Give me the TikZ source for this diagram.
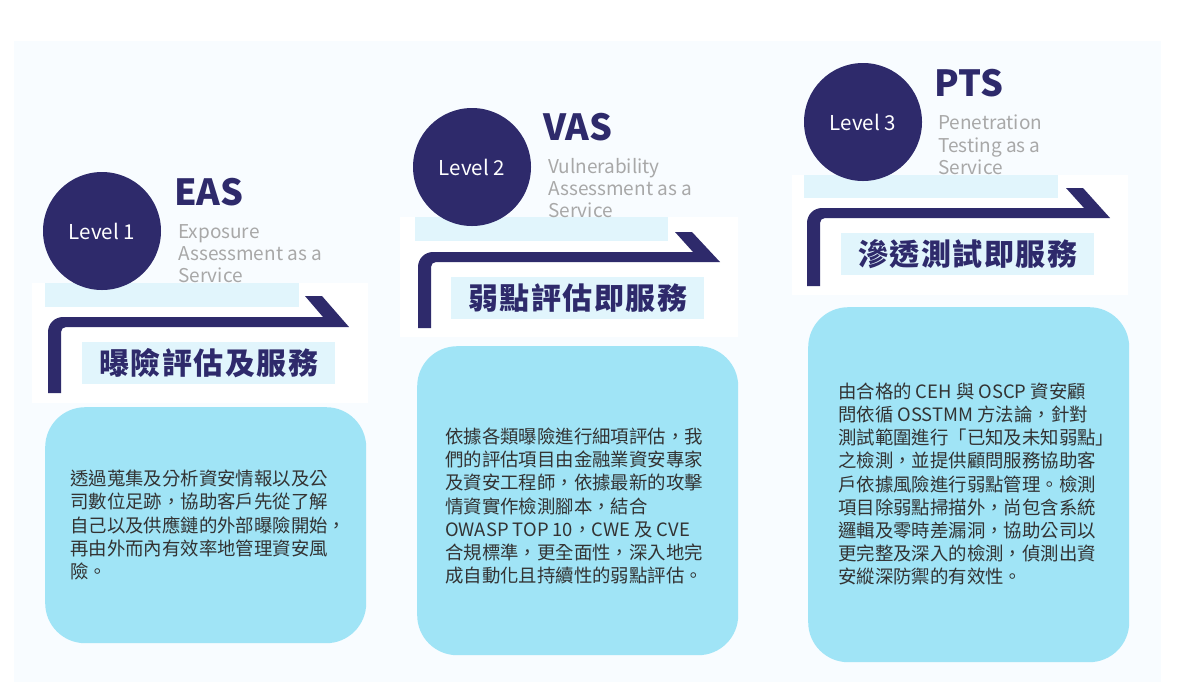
\documentclass[tikz,border=0pt]{standalone}
\usepackage{fontspec}
\setmainfont{Noto Sans CJK TC}
\definecolor{navy}{HTML}{2E2A6B}
\definecolor{panel}{HTML}{F8FCFF}
\definecolor{lightbar}{HTML}{E1F5FC}
\definecolor{cardfill}{HTML}{A0E4F6}
\definecolor{subgray}{HTML}{A8A8A8}
\definecolor{bodytext}{HTML}{333333}
\tikzset{
  whitebg/.style={fill=white, inner sep=0pt, anchor=north west},
  barbox/.style={fill=lightbar, inner sep=0pt, anchor=north west, minimum height=24pt},
  levelcircle/.style={circle, fill=navy, minimum size=118pt, inner sep=0pt, text=white, font=\fontsize{20.5}{22}\selectfont},
  abbrev/.style={anchor=west, inner sep=0pt, text=navy, font=\fontsize{36}{40}\selectfont\bfseries},
  subtitle/.style={anchor=north west, inner sep=0pt, align=left, text=subgray, font=\fontsize{19}{22.3}\selectfont},
  titlebox/.style={fill=lightbar, inner sep=0pt, anchor=north west, minimum width=253pt, minimum height=42pt, text=navy, font=\fontsize{30}{32}\selectfont\bfseries\addfontfeatures{LetterSpace=5}},
  card/.style={fill=cardfill, rounded corners=40pt, inner sep=0pt, anchor=north west, minimum width=321pt},
  bodytxt/.style={anchor=west, inner sep=0pt, align=left, text=bodytext, font=\fontsize{18.4}{23.2}\selectfont},
  arrowfill/.style={fill=navy}
}
\begin{document}
\begin{tikzpicture}[x=1pt,y=-1pt]
\useasboundingbox (0,0) rectangle (1177,689);
\fill[white] (0,0) rectangle (1177,689);
\fill[panel] (14,41) rectangle (1161,682);

% ---------- column 1 ----------
\node[whitebg, minimum width=336pt, minimum height=120pt] (bg1) at (32,283) {};
\node[barbox, minimum width=254pt] (bar1) at (45,283) {};
\node[subtitle] (sub1) at (178,224) {Exposure\\Assessment as a\\Service};
\node[levelcircle] (lv1) at (102,231) {Level 1};
\node[abbrev] (ab1) at (174,192) {EAS};
\fill[arrowfill] (48,393) -- (48,332) .. controls (48,323.7) and (54.7,317) .. (63,317)
  -- (323,317) -- (305,296) -- (322,296) -- (349,327) -- (66,327)
  .. controls (63.2,327) and (61,329.2) .. (61,332) -- (61,393) -- cycle;
\node[titlebox] (t1) at (82,342) {曝險評估及服務};
\node[card, minimum height=236pt] (c1) at (45,407) {};
\node[bodytxt] (b1) at (70,525) {透過蒐集及分析資安情報以及公\\司數位足跡，協助客戶先從了解\\自己以及供應鏈的外部曝險開始，\\再由外而內有效率地管理資安風\\險。};

% ---------- column 2 ----------
\node[whitebg, minimum width=338pt, minimum height=120pt] (bg2) at (400,217) {};
\node[barbox, minimum width=253pt] (bar2) at (415,217) {};
\node[subtitle] (sub2) at (548,158) {Vulnerability\\Assessment as a\\Service};
\node[levelcircle] (lv2) at (472,167) {Level 2};
\node[abbrev] (ab2) at (543,127) {VAS};
\fill[arrowfill] (418,328) -- (418,267) .. controls (418,258.7) and (424.7,252) .. (433,252)
  -- (693,252) -- (675,232) -- (692,232) -- (720,262) -- (436,262)
  .. controls (433.2,262) and (431,264.2) .. (431,267) -- (431,328) -- cycle;
\node[titlebox] (t2) at (451,277) {弱點評估即服務};
\node[card, minimum height=309pt] (c2) at (417,346) {};
\node[bodytxt] (b2) at (445,506) {依據各類曝險進行細項評估，我\\們的評估項目由金融業資安專家\\及資安工程師，依據最新的攻擊\\情資實作檢測腳本，結合\\OWASP TOP 10，CWE 及 CVE\\合規標準，更全面性，深入地完\\成自動化且持續性的弱點評估。};

% ---------- column 3 ----------
\node[whitebg, minimum width=336pt, minimum height=120pt] (bg3) at (792,175) {};
\node[barbox, minimum width=254pt, minimum height=23pt] (bar3) at (804,175) {};
\node[subtitle] (sub3) at (938,115) {Penetration\\Testing as a\\Service};
\node[levelcircle] (lv3) at (863,122) {Level 3};
\node[abbrev] (ab3) at (934,83) {PTS};
\fill[arrowfill] (807,286) -- (807,223) .. controls (807,214.7) and (813.7,208) .. (822,208)
  -- (1084,208) -- (1066,188) -- (1083,188) -- (1110,218) -- (825,218)
  .. controls (822.2,218) and (820,220.2) .. (820,223) -- (820,286) -- cycle;
\node[titlebox] (t3) at (841,233) {滲透測試即服務};
\node[card, minimum height=355pt] (c3) at (808,307) {};
\node[bodytxt] (b3) at (838,484) {由合格的 CEH 與 OSCP 資安顧\\問依循 OSSTMM 方法論，針對\\測試範圍進行「已知及未知弱點」\\之檢測，並提供顧問服務協助客\\戶依據風險進行弱點管理。檢測\\項目除弱點掃描外，尚包含系統\\邏輯及零時差漏洞，協助公司以\\更完整及深入的檢測，偵測出資\\安縱深防禦的有效性。};
\end{tikzpicture}
\end{document}
